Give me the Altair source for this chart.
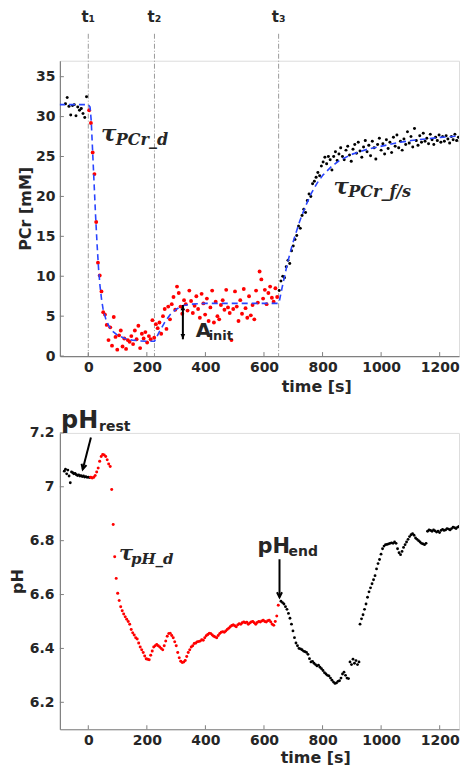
import altair as alt
import pandas as pd

# ---------------- PCr panel data (mM) ----------------
pcr_rest_start, pcr_rest_step = -78, 6
pcr_rest = [31.6, 32.4, 31.3, 30.2, 31.4, 31.5, 30.1, 31.2, 30.8, 31.0, 30.4, 29.9, 32.5]

pcr_ex_start, pcr_ex_step = 3, 6
pcr_ex = [30.8, 29.2, 25.5, 22.8, 16.8, 11.7, 10.1, 8.1, 5.5, 5.2,
          3.9, 2.0, 3.6, 1.3, 4.9, 2.4, 0.8, 2.6, 3.2, 1.2,
          2.2, 0.9, 2.0, 1.8, 2.5, 1.5, 3.2, 2.1, 3.8, 1.0,
          2.8, 2.2, 3.0, 1.7, 2.5, 2.1, 4.5, 2.3, 4.0, 3.5,
          4.2, 2.8, 5.0, 5.9, 3.4, 6.2, 4.6, 6.5, 7.4, 5.8,
          8.7, 7.9, 6.2, 5.3, 7.0, 6.5, 5.7, 8.2, 6.9, 5.4,
          6.3, 7.5, 5.9, 4.8, 7.8, 6.6, 5.2, 7.2, 4.4, 6.1,
          8.2, 4.2, 6.8, 5.0, 4.6, 6.4, 7.0, 5.8, 8.3, 6.1,
          5.4, 2.0, 5.9, 8.1, 6.2, 4.4, 7.0, 5.3, 8.4, 6.0,
          4.8, 7.5, 5.1, 6.4, 4.6, 8.2, 6.7, 10.6, 9.6, 7.2,
          8.3, 6.5, 7.9, 8.7, 7.3, 6.8, 8.5, 7.4]

pcr_rec_start, pcr_rec_step = 652, 6
pcr_rec = [8.2, 9.4, 10.0, 9.8, 11.2, 12.0, 11.6, 13.2, 13.8, 14.6,
           15.1, 16.3, 16.0, 17.6, 18.4, 18.0, 19.5, 20.3, 20.0, 21.6,
           21.9, 22.4, 23.0, 22.6, 23.8, 24.3, 24.9, 24.1, 25.0, 24.6,
           23.3, 25.0, 25.6, 24.5, 25.3, 26.1, 25.0, 24.6, 25.8, 26.3,
           25.2, 24.4, 25.9, 26.5, 25.4, 26.8, 25.7, 24.9, 26.2, 27.0,
           25.6, 26.4, 25.1, 26.9, 26.1, 24.7, 26.5, 27.3, 25.8, 26.6,
           25.3, 27.1, 26.0, 26.8, 25.5, 27.4, 26.3, 27.7, 26.1, 26.9,
           25.8, 27.2, 26.5, 28.1, 26.7, 27.5, 26.2, 28.5, 27.0, 26.4,
           27.6, 26.8, 27.9, 26.9, 27.3, 26.6, 27.8, 27.1, 26.5, 27.4,
           27.0, 27.7, 26.8, 27.5, 26.9, 27.6, 27.2, 26.7, 27.5, 27.1,
           27.8, 27.0, 27.4, 26.9, 27.6, 27.2]

fit_t = [-100, 0, 6, 10, 15, 20, 25, 30, 35, 40, 45, 50, 60, 70, 80, 100, 125, 150,
         175, 200, 226, 242, 262, 282, 302, 322, 352, 400, 500, 600, 650,
         652, 662, 672, 682, 692, 702, 722, 742, 762, 782, 802, 832, 862, 902,
         952, 1002, 1052, 1102, 1152, 1202, 1280]
fit_v = [31.5, 31.5, 31.2, 29.5, 25.5, 21.5, 17.5, 14.0, 11.0, 8.8, 7.2, 6.0, 4.6, 3.8,
         3.2, 2.6, 2.2, 2.0, 1.9, 1.85, 1.85, 3.0, 4.3, 5.3, 5.9, 6.3, 6.5, 6.6, 6.6,
         6.6, 6.6, 6.8, 8.6, 10.3, 11.9, 13.3, 14.6, 16.9, 18.8, 20.4, 21.7, 22.7,
         23.8, 24.6, 25.3, 25.9, 26.3, 26.7, 27.0, 27.2, 27.4, 27.6]

event_t = [0, 226, 650]
event_lbl = ["t\u2081", "t\u2082", "t\u2083"]

# ---------------- pH panel data ----------------
ph_rest_start, ph_rest_step = -82, 4.1
ph_rest = [7.058, 7.065, 7.048, 7.062, 7.040, 7.015, 7.055, 7.052, 7.048, 7.050,
           7.045, 7.042, 7.044, 7.040, 7.041, 7.038, 7.040, 7.036, 7.038, 7.035,
           7.036, 7.034]

ph_ex_start, ph_ex_step = 8.2, 5.125
ph_ex = [7.035, 7.033, 7.035, 7.042, 7.055, 7.07, 7.095, 7.112, 7.12, 7.118,
         7.112, 7.10, 7.085, 7.075, 6.99, 6.86, 6.74, 6.66, 6.605, 6.578,
         6.555, 6.54, 6.528, 6.518, 6.508, 6.50, 6.49, 6.47, 6.458, 6.45,
         6.44, 6.435, 6.42, 6.405, 6.395, 6.385, 6.372, 6.362, 6.36, 6.358,
         6.375, 6.39, 6.405, 6.41, 6.415, 6.41, 6.405, 6.40, 6.395, 6.41,
         6.428, 6.445, 6.455, 6.456, 6.448, 6.44, 6.425, 6.41, 6.385, 6.365,
         6.352, 6.348, 6.35, 6.355, 6.37, 6.385, 6.395, 6.405, 6.41, 6.418,
         6.42, 6.425, 6.426, 6.428, 6.432, 6.43, 6.44, 6.447, 6.452, 6.456,
         6.455, 6.45, 6.445, 6.442, 6.44, 6.448, 6.455, 6.46, 6.462, 6.46,
         6.465, 6.47, 6.475, 6.48, 6.485, 6.488, 6.484, 6.48, 6.488, 6.492,
         6.49, 6.495, 6.498, 6.495, 6.497, 6.49, 6.494, 6.498, 6.50, 6.495,
         6.49, 6.496, 6.50, 6.498, 6.502, 6.505, 6.50, 6.498, 6.503, 6.505,
         6.498, 6.49, 6.486, 6.50, 6.52, 6.56]

ph_rec1_start, ph_rec1_step = 658, 5.125
ph_rec1 = [6.575, 6.57, 6.565, 6.555, 6.545, 6.53, 6.512, 6.49, 6.465, 6.44,
           6.42, 6.41, 6.40, 6.398, 6.395, 6.39, 6.388, 6.385, 6.378, 6.362,
           6.35, 6.352, 6.345, 6.34, 6.335, 6.338, 6.33, 6.325, 6.318, 6.31,
           6.305, 6.30, 6.298, 6.29, 6.282, 6.275, 6.27, 6.272, 6.278, 6.28,
           6.29, 6.305, 6.312, 6.30, 6.29, 6.288, 6.35, 6.34, 6.36, 6.345,
           6.355, 6.34, 6.35]

ph_rec2_start, ph_rec2_step = 928, 5.125
ph_rec2 = [6.49, 6.51, 6.525, 6.545, 6.565, 6.59, 6.61, 6.625, 6.64, 6.655,
           6.67, 6.695, 6.715, 6.73, 6.75, 6.77, 6.78, 6.785, 6.786, 6.788,
           6.79, 6.792, 6.79, 6.795, 6.79, 6.77, 6.755, 6.748, 6.76, 6.775,
           6.785, 6.795, 6.805, 6.815, 6.822, 6.826, 6.82, 6.81, 6.805, 6.80,
           6.795, 6.79, 6.788, 6.785, 6.79, 6.835, 6.84, 6.838, 6.835, 6.84,
           6.836, 6.832, 6.835, 6.83, 6.838, 6.842, 6.838, 6.84, 6.845, 6.843,
           6.84, 6.845, 6.85, 6.848, 6.845, 6.85, 6.853, 6.85, 6.855, 6.858,
           6.855]

x_ticks = [0, 200, 400, 600, 800, 1000, 1200]
y_ticks_top = [0, 5, 10, 15, 20, 25, 30, 35]
y_ticks_bot = [6.2, 6.4, 6.6, 6.8, 7.0, 7.2]


def series(start, step, vals):
    return pd.DataFrame({"t": [start + i * step for i in range(len(vals))], "v": vals})


# ---------------- styling ----------------
FONT = "DejaVu Sans"
SERIF = "DejaVu Serif"
TXT = "#262626"
AX = "#808080"
BLUE = "#2a45ff"

W1, H1 = 400, 296
W2, H2 = 400, 297
X_DOMAIN = [-97, 1266]


def axis_common(**kw):
    base = dict(labelFont=FONT, labelFontWeight="bold", labelFontSize=14, labelColor=TXT,
                titleFont=FONT, titleFontWeight="bold", titleFontSize=16, titleColor=TXT,
                domainColor=AX, domainWidth=1.2, ticks=False, grid=False)
    base.update(kw)
    return alt.Axis(**base)


# ================= top panel =================
xs1 = alt.Scale(domain=X_DOMAIN, nice=False, zero=False)
ys1 = alt.Scale(domain=[0, 37], nice=False)
X1 = alt.X("t:Q", scale=xs1, axis=axis_common(values=x_ticks, title="time [s]", format="d",
                                              labelPadding=4, titleX=257, titleY=31,
                                              titleBaseline="middle", labelFlush=False))
Y1 = alt.Y("v:Q", scale=ys1, axis=axis_common(values=y_ticks_top, title="PCr [mM]",
                                              labelPadding=5, titlePadding=2))

ev_df = pd.DataFrame({"t": event_t, "lbl": event_lbl})
ev_rules = alt.Chart(ev_df).mark_rule(color="#9a9a9a", strokeWidth=1,
                                      strokeDash=[5, 2, 1, 2]).encode(
    x=X1, y=alt.value(-27), y2=alt.value(H1))
ev_text = alt.Chart(ev_df).mark_text(font=FONT, fontWeight="bold", fontSize=15, color=TXT,
                                     baseline="alphabetic").encode(
    x=X1, y=alt.value(-39), text="lbl:N")

rest_df = series(pcr_rest_start, pcr_rest_step, pcr_rest)
ex_df = series(pcr_ex_start, pcr_ex_step, pcr_ex)
rec_df = series(pcr_rec_start, pcr_rec_step, pcr_rec)
fit_df = pd.DataFrame({"t": fit_t, "v": fit_v})

pts_black1 = alt.Chart(pd.concat([rest_df, rec_df])).mark_circle(
    color="black", size=9, opacity=1, clip=True).encode(x=X1, y=Y1)
pts_red1 = alt.Chart(ex_df).mark_circle(color="#ff0000", size=15, opacity=1).encode(x=X1, y=Y1)
fit_line = alt.Chart(fit_df).mark_line(color=BLUE, strokeWidth=1.6, strokeDash=[6, 4],
                                       clip=True).encode(x=X1, y=Y1)

xt1 = alt.Chart(pd.DataFrame({"t": x_ticks})).mark_rule(color=AX).encode(
    x=X1, y=alt.value(H1 - 4), y2=alt.value(H1))
yt1 = alt.Chart(pd.DataFrame({"v": y_ticks_top})).mark_rule(color=AX).encode(
    y=Y1, x=alt.value(0), x2=alt.value(4))


def txt(df, size, font=FONT, style="normal", weight="bold"):
    return alt.Chart(df).mark_text(font=font, fontSize=size, fontStyle=style,
                                   fontWeight=weight, color=TXT, align="left",
                                   baseline="alphabetic").encode(
        x=alt.X("t:Q"), y=alt.Y("v:Q"), text="s:N")


def lab(t, v, s):
    return pd.DataFrame({"t": [t], "v": [v], "s": [s]})


tau_d = txt(lab(43, 27.0, "\u03c4"), 23, SERIF, "italic")
tau_d_sub = txt(lab(94, 26.5, "PCr_d"), 16, SERIF, "italic")
tau_fs = txt(lab(837, 20.3, "\u03c4"), 23, SERIF, "italic")
tau_fs_sub = txt(lab(888, 19.9, "PCr_f/s"), 16, SERIF, "italic")
a_main = txt(lab(367, 2.4, "A"), 20)
a_sub = txt(lab(411, 2.0, "init"), 13)

arr_t = [323]
arr_lo = [2.1]
arr_hi = [6.4]
arr_df = pd.DataFrame({"t": arr_t, "v": arr_lo, "v2": arr_hi})
arr_rule = alt.Chart(arr_df).mark_rule(color="black", strokeWidth=2).encode(
    x="t:Q", y="v:Q", y2="v2:Q")
head_up = alt.Chart(pd.DataFrame({"t": arr_t, "v": arr_hi})).mark_point(
    shape="M-0.7,1.6L0,0L0.7,1.6Z", filled=True, color="black", size=45, opacity=1).encode(
    x="t:Q", y="v:Q")
head_dn = alt.Chart(pd.DataFrame({"t": arr_t, "v": arr_lo})).mark_point(
    shape="M-0.7,-1.6L0,0L0.7,-1.6Z", filled=True, color="black", size=45, opacity=1).encode(
    x="t:Q", y="v:Q")

top = alt.layer(ev_rules, ev_text, pts_black1, pts_red1, fit_line, xt1, yt1,
                tau_d, tau_d_sub, tau_fs, tau_fs_sub, a_main, a_sub,
                arr_rule, head_up, head_dn).properties(width=W1, height=H1)

# ================= bottom panel =================
xs2 = alt.Scale(domain=X_DOMAIN, nice=False, zero=False)
ys2 = alt.Scale(domain=[6.1, 7.2], nice=False, zero=False)
X2 = alt.X("t:Q", scale=xs2, axis=axis_common(values=x_ticks, title="time [s]", format="d",
                                              labelPadding=4, titleX=256, titleY=28,
                                              titleBaseline="middle", labelFlush=False))
Y2 = alt.Y("v:Q", scale=ys2, axis=axis_common(values=y_ticks_bot, title="pH", format=".1~f",
                                              labelPadding=6, titlePadding=4))

ph_black = pd.concat([series(ph_rest_start, ph_rest_step, ph_rest),
                      series(ph_rec1_start, ph_rec1_step, ph_rec1),
                      series(ph_rec2_start, ph_rec2_step, ph_rec2)])
ph_red = series(ph_ex_start, ph_ex_step, ph_ex)

pts_black2 = alt.Chart(ph_black).mark_circle(color="black", size=8, opacity=1, clip=True).encode(
    x=X2, y=Y2)
pts_red2 = alt.Chart(ph_red).mark_circle(color="#ff0000", size=9, opacity=1).encode(x=X2, y=Y2)

xt2 = alt.Chart(pd.DataFrame({"t": x_ticks})).mark_rule(color=AX).encode(
    x=X2, y=alt.value(H2 - 4), y2=alt.value(H2))
yt2 = alt.Chart(pd.DataFrame({"v": y_ticks_bot})).mark_rule(color=AX).encode(
    y=Y2, x=alt.value(0), x2=alt.value(4))

ph_rest_main = txt(lab(-93, 7.219, "pH"), 24)
ph_rest_sub = txt(lab(37, 7.207, "rest"), 14)
ph_end_main = txt(lab(578, 6.753, "pH"), 21)
ph_end_sub = txt(lab(684, 6.742, "end"), 14)
tau_ph = txt(lab(105, 6.728, "\u03c4"), 21, SERIF, "italic")
tau_ph_sub = txt(lab(146, 6.714, "pH_d"), 15, SERIF, "italic")

r_arrow = pd.DataFrame({"t": [9], "v": [7.183], "t2": [-19], "v2": [7.065]})
r_line = alt.Chart(r_arrow).mark_rule(color="black", strokeWidth=2).encode(
    x="t:Q", y="v:Q", x2="t2:Q", y2="v2:Q")
r_head = alt.Chart(r_arrow).mark_point(shape="M-0.8,-1.6L0,0L0.8,-1.6", filled=False,
                                       color="black", strokeWidth=2, size=40, angle=15,
                                       opacity=1).encode(x="t2:Q", y="v2:Q")
e_arrow = pd.DataFrame({"t": [653], "v": [6.731], "v2": [6.590]})
e_line = alt.Chart(e_arrow).mark_rule(color="black", strokeWidth=2).encode(
    x="t:Q", y="v:Q", y2="v2:Q")
e_head = alt.Chart(e_arrow).mark_point(shape="M-0.8,-1.6L0,0L0.8,-1.6", filled=False,
                                       color="black", strokeWidth=2, size=40,
                                       opacity=1).encode(x="t:Q", y="v2:Q")

bottom = alt.layer(pts_black2, pts_red2, xt2, yt2,
                   ph_rest_main, ph_rest_sub, ph_end_main, ph_end_sub, tau_ph, tau_ph_sub,
                   r_line, r_head, e_line, e_head).properties(width=W2, height=H2)

chart = alt.vconcat(top, bottom, spacing=12).properties(
    padding={"left": 0, "top": 0, "right": 0, "bottom": 0}
).configure_view(stroke=None).configure(background="white")

chart.save("out.html", embed_options={"renderer": "svg", "actions": False})
